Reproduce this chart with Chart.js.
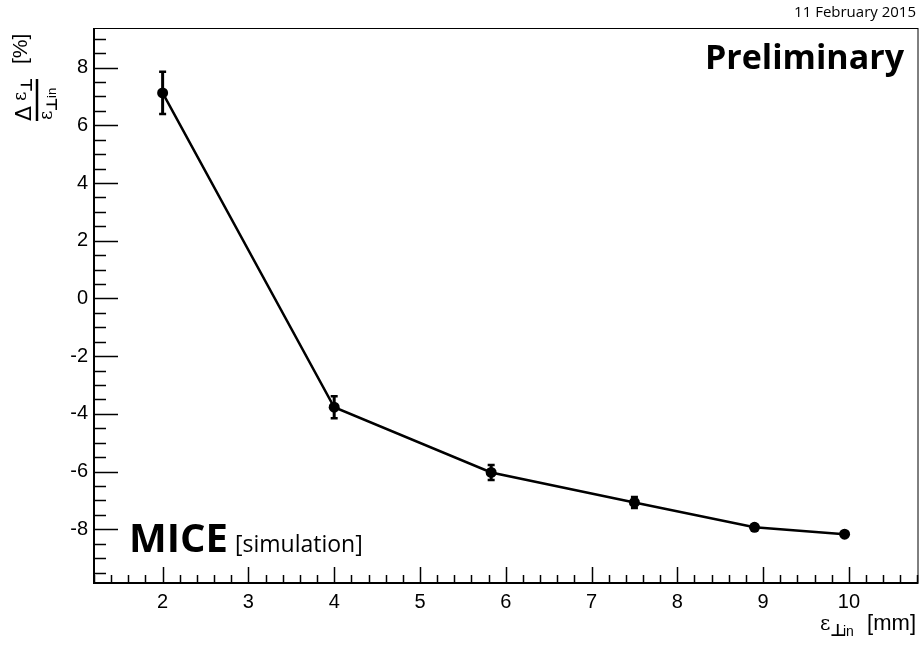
<!doctype html>
<html>
<head>
<meta charset="UTF-8">
<title>MICE emittance change</title>
<script src="https://cdn.jsdelivr.net/npm/chart.js@4"></script>
<style>
  html, body { margin: 0; padding: 0; background: #fff; }
  #holder { width: 923px; height: 650px; }
</style>
</head>
<body>
<div id="holder"><canvas id="c"></canvas></div>
<script>
// values
const emitIn = [2, 4, 5.83, 7.5, 8.9, 9.95];        // x, mm
const deltaPct = [7.12, -3.77, -6.03, -7.07, -7.93, -8.17]; // y, %
const errPct = [0.73, 0.38, 0.26, 0.19, 0.1, 0.08];

const xTicks = [2, 3, 4, 5, 6, 7, 8, 9, 10];
const yTicks = [-8, -6, -4, -2, 0, 2, 4, 6, 8];

const labelFont = { family: 'Liberation Sans, Arial, sans-serif', size: 20 };

// ROOT-like frame with inward ticks
const frame = {
  id: 'frame',
  afterDraw(chart) {
    const { ctx, chartArea: a, scales: { x, y } } = chart;
    ctx.save();
    ctx.strokeStyle = '#000';
    ctx.lineWidth = 1;
    ctx.strokeRect(a.left + 0.5, a.top + 0.5, a.right - a.left, a.bottom - a.top);
    ctx.lineWidth = 2;
    ctx.beginPath();
    ctx.moveTo(a.left, a.top); ctx.lineTo(a.left, a.bottom); ctx.lineTo(a.right, a.bottom);
    ctx.stroke();

    ctx.lineWidth = 1.5;
    ctx.beginPath();
    // x minor 0.2, major 1
    for (let v = Math.ceil(x.min / 0.2) * 0.2; v <= x.max + 1e-9; v += 0.2) {
      const px = Math.round(x.getPixelForValue(v)) + 0.5;
      const major = Math.abs(v - Math.round(v)) < 1e-6;
      ctx.moveTo(px, a.bottom);
      ctx.lineTo(px, a.bottom - (major ? 16 : 8));
    }
    // y minor 0.5, major 2
    for (let v = Math.ceil(y.min / 0.5) * 0.5; v <= y.max + 1e-9; v += 0.5) {
      const py = Math.round(y.getPixelForValue(v)) + 0.5;
      const major = Math.abs(v / 2 - Math.round(v / 2)) < 1e-6;
      ctx.moveTo(a.left, py);
      ctx.lineTo(a.left + (major ? 24 : 12), py);
    }
    ctx.stroke();

    // axis titles
    ctx.fillStyle = '#000';
    ctx.textBaseline = 'alphabetic';
    // x title: eps_perp in [mm]
    ctx.font = '22px Liberation Sans, sans-serif';
    ctx.textAlign = 'right';
    ctx.fillText('[mm]', 916, 630);
    ctx.textAlign = 'left';
    ctx.font = '20px DejaVu Serif, serif';
    ctx.fillText('ε', 820, 630);
    ctx.font = 'bold 17px DejaVu Sans, sans-serif';
    ctx.fillText('⊥', 830, 636);
    ctx.font = '14px Liberation Sans, sans-serif';
    ctx.fillText('in', 843, 636);

    // y title: fraction, rotated
    ctx.save();
    ctx.translate(37, 121);
    ctx.rotate(-Math.PI / 2);
    ctx.lineWidth = 2.5;
    ctx.beginPath();
    ctx.moveTo(0, 0); ctx.lineTo(42, 0);
    ctx.stroke();
    ctx.font = '22px DejaVu Sans, sans-serif';
    ctx.fillText('Δ', 0, -6);
    ctx.font = '18px DejaVu Serif, serif';
    ctx.fillText('ε', 20, -11);
    ctx.font = 'bold 16px DejaVu Sans, sans-serif';
    ctx.fillText('⊥', 29, -5);
    ctx.font = '18px DejaVu Serif, serif';
    ctx.fillText('ε', 1, 15);
    ctx.font = 'bold 15px DejaVu Sans, sans-serif';
    ctx.fillText('⊥', 10, 20);
    ctx.font = '13px Liberation Sans, sans-serif';
    ctx.fillText('in', 23, 19);
    ctx.font = '21px Liberation Sans, sans-serif';
    ctx.fillText('[%]', 57, -10);
    ctx.restore();

    // annotations
    ctx.textAlign = 'right';
    ctx.font = '15px Open Sans, sans-serif';
    ctx.fillText('11 February 2015', 916, 17);
    ctx.font = 'bold 34px Open Sans, sans-serif';
    ctx.fillText('Preliminary', 904, 69);
    ctx.textAlign = 'left';
    ctx.font = 'bold 40px Open Sans, sans-serif';
    ctx.fillText('MICE', 129, 552);
    ctx.font = '23px Open Sans, sans-serif';
    ctx.fillText('[simulation]', 235, 552);
    ctx.restore();
  }
};

// vertical error bars with caps
const errorBars = {
  id: 'errorBars',
  afterDatasetsDraw(chart) {
    const { ctx, scales: { x, y } } = chart;
    ctx.save();
    ctx.strokeStyle = '#000';
    emitIn.forEach((xv, i) => {
      const px = x.getPixelForValue(xv);
      const top = y.getPixelForValue(deltaPct[i] + errPct[i]);
      const bot = y.getPixelForValue(deltaPct[i] - errPct[i]);
      ctx.lineWidth = 3;
      ctx.beginPath();
      ctx.moveTo(px, top); ctx.lineTo(px, bot);
      ctx.stroke();
      ctx.lineWidth = 2.5;
      ctx.beginPath();
      ctx.moveTo(px - 3.5, top); ctx.lineTo(px + 3.5, top);
      ctx.moveTo(px - 3.5, bot); ctx.lineTo(px + 3.5, bot);
      ctx.stroke();
    });
    ctx.restore();
  }
};

new Chart(document.getElementById('c'), {
  type: 'scatter',
  data: {
    datasets: [{
      data: emitIn.map((v, i) => ({ x: v, y: deltaPct[i] })),
      showLine: true,
      borderColor: '#000',
      backgroundColor: '#000',
      borderWidth: 2.5,
      pointRadius: 5.5,
      pointBorderWidth: 0,
      tension: 0
    }]
  },
  options: {
    responsive: true,
    maintainAspectRatio: false,
    animation: false,
    events: [],
    layout: { padding: { left: 0, right: 5, top: 28, bottom: 0 } },
    plugins: { legend: { display: false }, tooltip: { enabled: false } },
    scales: {
      x: {
        type: 'linear',
        min: 1.2,
        max: 10.8,
        grid: { display: false, drawTicks: false },
        border: { display: false },
        afterFit(s) { s.height = 67; },
        afterBuildTicks(s) { s.ticks = xTicks.map(v => ({ value: v })); },
        ticks: { color: '#000', font: labelFont, padding: 7, maxRotation: 0, autoSkip: false }
      },
      y: {
        type: 'linear',
        min: -9.86,
        max: 9.37,
        grid: { display: false, drawTicks: false },
        border: { display: false },
        afterFit(s) { s.width = 94; },
        afterBuildTicks(s) { s.ticks = yTicks.map(v => ({ value: v })); },
        ticks: { color: '#000', font: labelFont, padding: 6, autoSkip: false }
      }
    }
  },
  plugins: [frame, errorBars]
});
</script>
</body>
</html>
